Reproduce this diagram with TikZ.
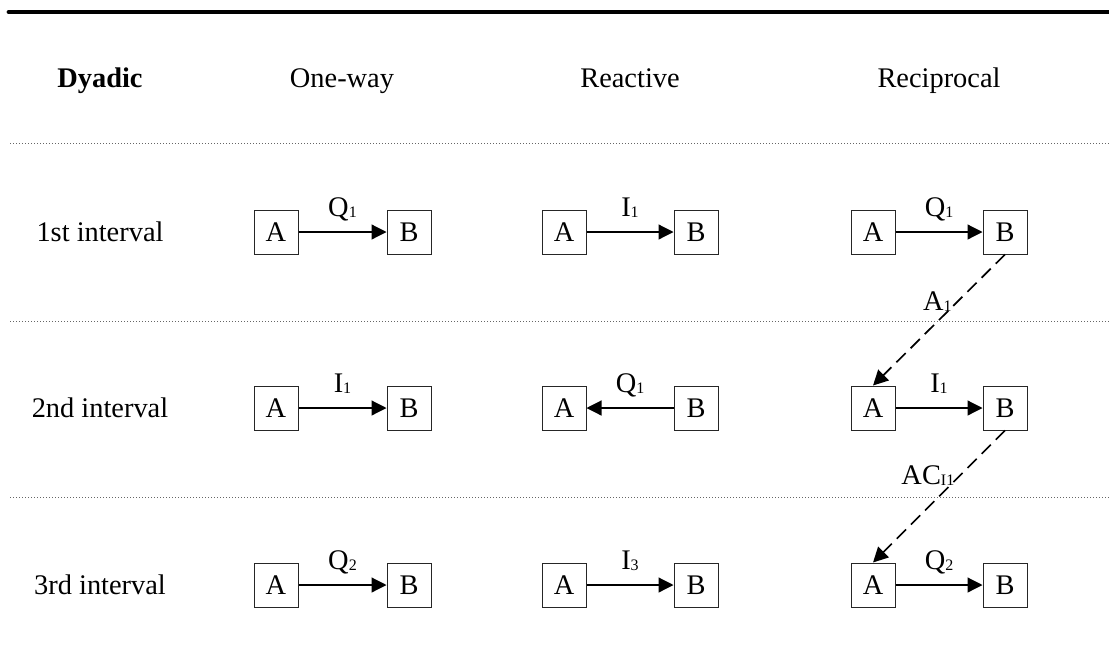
\documentclass[tikz,border=0pt]{standalone}
\usepackage{fontspec}
\setmainfont{Liberation Serif}
\usetikzlibrary{arrows.meta}
\newcommand{\mainsize}{\fontsize{14.2}{17}\selectfont}
\newcommand{\lsub}[1]{{\fontsize{8}{8}\selectfont\raisebox{-0.6pt}{#1}}}
\begin{document}
\begin{tikzpicture}[x=0.5pt, y=-0.5pt,
    every node/.style={font=\mainsize},
    box/.style={draw=black!85, line width=0.5pt, minimum size=22pt, inner sep=0pt},
    link/.style={-{Triangle[length=7.5pt,width=7.5pt]}, line width=0.6pt},
    reply/.style={link, line width=0.85pt, dash pattern=on 6.5pt off 3.5pt},
    lbl/.style={anchor=base, yshift=8pt, inner sep=0pt},
    rule/.style={draw=black!60, line width=0.5pt, dash pattern=on 0.5pt off 1pt}]
    \useasboundingbox (0,0) rectangle (1109,670);
    % rules
    \draw[line width=2.4pt, line cap=round] (9,12) -- (1115,12);
    \draw[rule] (10,143) -- (1109,143);
    \draw[rule] (10,321) -- (1109,321);
    \draw[rule] (10,497) -- (1109,497);
    % header
    \node[anchor=base, font=\mainsize\bfseries] (dyadic) at (100,87) {Dyadic};
    \node[anchor=base] (oneway) at (342,87) {One-way};
    \node[anchor=base] (reactive) at (630,87) {Reactive};
    \node[anchor=base] (reciprocal) at (939,87) {Reciprocal};
    % row labels
    \node (int1) at (100,232) {1st interval};
    \node (int2) at (100,408) {2nd interval};
    \node (int3) at (100,585) {3rd interval};
    % one-way
    \node[box] (owA1) at (276,232) {A};
    \node[box] (owB1) at (409,232) {B};
    \node[box] (owA2) at (276,408) {A};
    \node[box] (owB2) at (409,408) {B};
    \node[box] (owA3) at (276,585) {A};
    \node[box] (owB3) at (409,585) {B};
    \draw[link] (owA1) -- node[lbl]{Q\lsub{1}} (owB1);
    \draw[link] (owA2) -- node[lbl]{I\lsub{1}} (owB2);
    \draw[link] (owA3) -- node[lbl]{Q\lsub{2}} (owB3);
    % reactive
    \node[box] (reA1) at (564,232) {A};
    \node[box] (reB1) at (696,232) {B};
    \node[box] (reA2) at (564,408) {A};
    \node[box] (reB2) at (696,408) {B};
    \node[box] (reA3) at (564,585) {A};
    \node[box] (reB3) at (696,585) {B};
    \draw[link] (reA1) -- node[lbl]{I\lsub{1}} (reB1);
    \draw[link] (reB2) -- node[lbl]{Q\lsub{1}} (reA2);
    \draw[link] (reA3) -- node[lbl]{I\lsub{3}} (reB3);
    % reciprocal
    \node[box] (rcA1) at (873,232) {A};
    \node[box] (rcB1) at (1005,232) {B};
    \node[box] (rcA2) at (873,408) {A};
    \node[box] (rcB2) at (1005,408) {B};
    \node[box] (rcA3) at (873,585) {A};
    \node[box] (rcB3) at (1005,585) {B};
    \draw[link] (rcA1) -- node[lbl]{Q\lsub{1}} (rcB1);
    \draw[link] (rcA2) -- node[lbl]{I\lsub{1}} (rcB2);
    \draw[link] (rcA3) -- node[lbl]{Q\lsub{2}} (rcB3);
    \draw[reply] (rcB1.south) -- node[pos=0.36, anchor=east, inner sep=2.5pt]{A\lsub{1}} (rcA2.north);
    \draw[reply] (rcB2.south) -- node[pos=0.34, anchor=east, inner sep=2.5pt]{AC\lsub{I1}} (rcA3.north);
\end{tikzpicture}
\end{document}
